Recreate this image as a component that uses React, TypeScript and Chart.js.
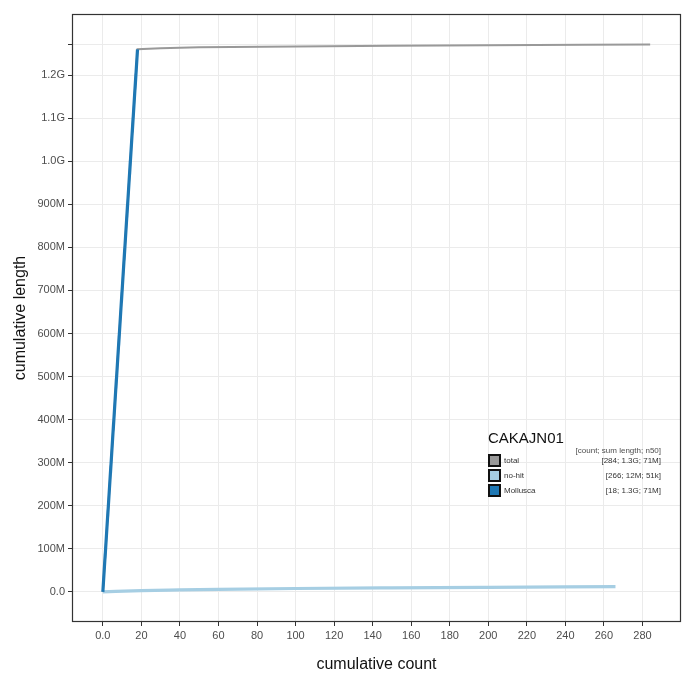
import React, { useEffect, useRef } from "react";
import { Chart, registerables } from "chart.js";

Chart.register(...registerables);

// cumulative count (x) and cumulative length (y) for each series
const totalCount = [0, 18, 30, 50, 100, 150, 200, 250, 284];
const totalLength = [0, 1.26e9, 1.2625e9, 1.2645e9, 1.2668e9, 1.2683e9, 1.2695e9, 1.2705e9, 1.271e9];

const noHitCount = [0, 20, 40, 60, 100, 150, 200, 266];
const noHitLength = [0, 3.0e6, 4.5e6, 5.8e6, 7.8e6, 9.4e6, 10.6e6, 12.0e6];

const molluscaCount = [0, 18];
const molluscaLength = [0, 1.26e9];

const xTicks = [0, 20, 40, 60, 80, 100, 120, 140, 160, 180, 200, 220, 240, 260, 280];
const yTicks = [0, 1e8, 2e8, 3e8, 4e8, 5e8, 6e8, 7e8, 8e8, 9e8, 1.0e9, 1.1e9, 1.2e9, 1.271e9];

const legendTitle = "CAKAJN01";
const legendHeader = "[count; sum length; n50]";
const legendNames = ["total", "no-hit", "Mollusca"];
const legendStats = ["[284; 1.3G; 71M]", "[266; 12M; 51k]", "[18; 1.3G; 71M]"];
const colors = ["#999999", "#a6cee3", "#1f78b4"];

const FONT = "'Liberation Sans', Arial, sans-serif";

function fmtY(v: number): string {
  if (v === 0) return "0.0";
  if (v === 1.271e9) return "";
  if (v >= 1e9) return (v / 1e9).toFixed(1) + "G";
  return Math.round(v / 1e6) + "M";
}

export default function App() {
  const ref = useRef<HTMLCanvasElement | null>(null);

  useEffect(() => {
    if (!ref.current) return;
    const decor = {
      id: "decor",
      afterDraw(chart: any) {
        const ctx = chart.ctx;
        const a = chart.chartArea;
        ctx.save();
        // panel border
        ctx.strokeStyle = "#333333";
        ctx.lineWidth = 1.2;
        ctx.strokeRect(a.left + 0.5, a.top + 0.5, a.right - a.left - 1, a.bottom - a.top - 1);
        // axis titles
        ctx.fillStyle = "#111111";
        ctx.font = `16px ${FONT}`;
        ctx.textAlign = "center";
        ctx.textBaseline = "middle";
        ctx.fillText("cumulative count", (a.left + a.right) / 2, 665);
        ctx.save();
        ctx.translate(21, (a.top + a.bottom) / 2);
        ctx.rotate(-Math.PI / 2);
        ctx.fillText("cumulative length", 0, 0);
        ctx.restore();
        // legend
        ctx.textAlign = "left";
        ctx.textBaseline = "alphabetic";
        ctx.font = `15px ${FONT}`;
        ctx.fillText(legendTitle, 488, 443);
        ctx.font = `8px ${FONT}`;
        ctx.fillStyle = "#4d4d4d";
        ctx.textAlign = "right";
        ctx.fillText(legendHeader, 661, 453);
        const rowY = [461, 476, 491];
        for (let i = 0; i < legendNames.length; i++) {
          const y = rowY[i];
          ctx.fillStyle = colors[i];
          ctx.fillRect(489, y - 6, 11, 11);
          ctx.strokeStyle = "#111111";
          ctx.lineWidth = 2;
          ctx.strokeRect(489, y - 6, 11, 11);
          ctx.fillStyle = "#333333";
          ctx.textAlign = "left";
          ctx.textBaseline = "middle";
          ctx.fillText(legendNames[i], 504, y);
          ctx.textAlign = "right";
          ctx.fillText(legendStats[i], 661, y);
        }
        ctx.restore();
      },
    };

    const toPts = (xs: number[], ys: number[]) => xs.map((x, i) => ({ x, y: ys[i] }));

    const chart = new Chart(ref.current, {
      type: "line",
      data: {
        datasets: [
          {
            label: legendNames[2],
            data: toPts(molluscaCount, molluscaLength),
            borderColor: colors[2],
            borderWidth: 3.2,
            pointRadius: 0,
            order: 0,
          },
          {
            label: legendNames[1],
            data: toPts(noHitCount, noHitLength),
            borderColor: colors[1],
            borderWidth: 3.2,
            pointRadius: 0,
            cubicInterpolationMode: "monotone",
            order: 1,
          },
          {
            label: legendNames[0],
            data: toPts(totalCount, totalLength),
            borderColor: colors[0],
            borderWidth: 2,
            pointRadius: 0,
            order: 2,
          },
        ],
      },
      options: {
        animation: false,
        responsive: false,
        maintainAspectRatio: false,
        layout: { padding: { left: 0, right: 14, top: 14, bottom: 0 } },
        plugins: { legend: { display: false }, tooltip: { enabled: false } },
        scales: {
          x: {
            type: "linear",
            min: -16,
            max: 300,
            afterBuildTicks(scale: any) {
              scale.ticks = xTicks.map((v) => ({ value: v }));
            },
            afterFit(scale: any) {
              scale.height = 66;
            },
            grid: { color: "#ebebeb", lineWidth: 1, tickColor: "#333333", tickLength: 4 },
            border: { display: false },
            ticks: {
              color: "#4d4d4d",
              font: { family: FONT, size: 11 },
              padding: 3,
              maxRotation: 0,
              autoSkip: false,
              callback: (v: any) => (Number(v) === 0 ? "0.0" : String(v)),
            },
          },
          y: {
            type: "linear",
            min: -7e7,
            max: 1.342e9,
            afterBuildTicks(scale: any) {
              scale.ticks = yTicks.map((v) => ({ value: v }));
            },
            afterFit(scale: any) {
              scale.width = 72;
            },
            grid: { color: "#ebebeb", lineWidth: 1, tickColor: "#333333", tickLength: 4 },
            border: { display: false },
            ticks: {
              color: "#4d4d4d",
              font: { family: FONT, size: 11 },
              padding: 3,
              autoSkip: false,
              callback: (v: any) => fmtY(Number(v)),
            },
          },
        },
      },
      plugins: [decor],
    });
    return () => chart.destroy();
  }, []);

  return (
    <div style={{ position: "fixed", left: 0, top: 0, width: 695, height: 688, background: "#fff" }}>
      <canvas ref={ref} width={695} height={688} style={{ width: 695, height: 688 }} />
    </div>
  );
}
